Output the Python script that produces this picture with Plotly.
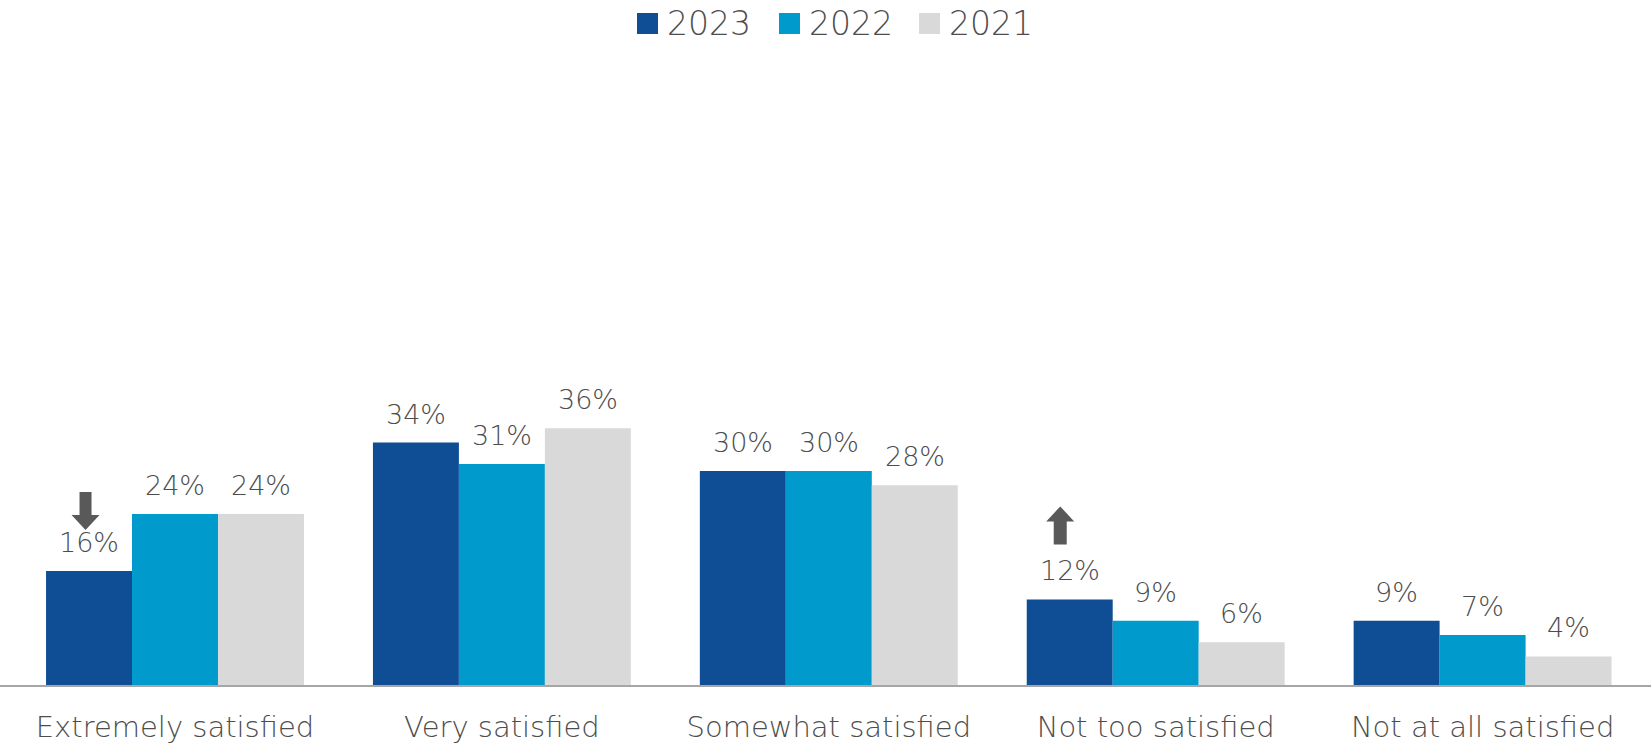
import plotly.graph_objects as go

categories = ["Extremely satisfied", "Very satisfied", "Somewhat satisfied", "Not too satisfied", "Not at all satisfied"]
years = ["2023", "2022", "2021"]
v2023 = [16, 34, 30, 12, 9]
v2022 = [24, 31, 30, 9, 7]
v2021 = [24, 36, 28, 6, 4]
series = [v2023, v2022, v2021]
colors = ["#0F4E94", "#009ACD", "#D9D9D9"]
# change markers on the 2023 bar: (category index, direction)
changes = [(0, "down"), (3, "up")]

FONT = "DejaVu Sans"
TXT = "#4D4D4D"
BARW = 0.263
W, H = 1651, 743
T, B = 60, 58
PH = H - T - B

fig = go.Figure()
for name, vals, col in zip(years, series, colors):
    fig.add_trace(go.Bar(name=name, x=list(range(len(categories))), y=vals,
                         marker_color=col, marker_line_width=0, showlegend=False,
                         hoverinfo="skip"))

annotations = []
for k, vals in enumerate(series):
    for i, v in enumerate(vals):
        annotations.append(dict(x=i + (k - 1) * BARW, y=v, xref="x", yref="y",
                                text=f"{v}%", showarrow=False, yanchor="bottom",
                                yshift=11, font=dict(family=FONT, size=27, color=TXT, weight=300)))

shapes = []
# manual legend
leg_sq = [637, 779, 919]
for k, (name, col) in enumerate(zip(years, colors)):
    x0 = leg_sq[k]
    shapes.append(dict(type="rect", xref="paper", yref="paper",
                       x0=x0 / W, x1=(x0 + 21) / W,
                       y0=(H - B - 34) / PH, y1=(H - B - 13) / PH,
                       fillcolor=col, line_width=0))
    annotations.append(dict(x=(x0 + 28) / W, y=(H - B - 24) / PH, xref="paper", yref="paper",
                            text=name, showarrow=False, xanchor="left", yanchor="middle",
                            font=dict(family=FONT, size=33, color=TXT, weight=300)))

for i, d in changes:
    yv = series[0][i]
    if d == "down":
        dx = -3.5
        path = (f"M {dx-6} 79 L {dx+6} 79 L {dx+6} 56 L {dx+14} 56 L {dx} 41 "
                f"L {dx-14} 56 L {dx-6} 56 Z")
    else:
        dx = -9.5
        path = (f"M {dx-6.5} 55 L {dx+6.5} 55 L {dx+6.5} 78 L {dx+14} 78 L {dx} 93 "
                f"L {dx-14} 78 L {dx-6.5} 78 Z")
    shapes.append(dict(type="path", xref="x", yref="y", xsizemode="pixel", ysizemode="pixel",
                       xanchor=i - BARW, yanchor=yv, path=path,
                       fillcolor="#595959", line_width=0))

x0r = -175 / 326.9
fig.update_layout(
    width=W, height=H,
    margin=dict(l=0, r=0, t=T, b=B, autoexpand=False),
    barmode="group", bargap=1 - 3 * BARW, bargroupgap=0,
    plot_bgcolor="white", paper_bgcolor="white",
    font=dict(family=FONT, color=TXT),
    showlegend=False,
    hovermode=False,
    xaxis=dict(showline=True, linecolor="#A6A6A6", linewidth=2, ticks="",
               tickmode="array", tickvals=list(range(len(categories))), ticktext=categories,
               range=[x0r, x0r + W / 326.9], automargin=False, fixedrange=True,
               tickfont=dict(family=FONT, size=29, color=TXT, weight=300), ticklabelstandoff=15),
    yaxis=dict(visible=False, range=[0, PH / 7.13], fixedrange=True),
    annotations=annotations,
    shapes=shapes,
)
fig.write_html("out.html", config={"displayModeBar": False},
               post_script="document.body.style.margin='0';document.body.style.padding='0';")
